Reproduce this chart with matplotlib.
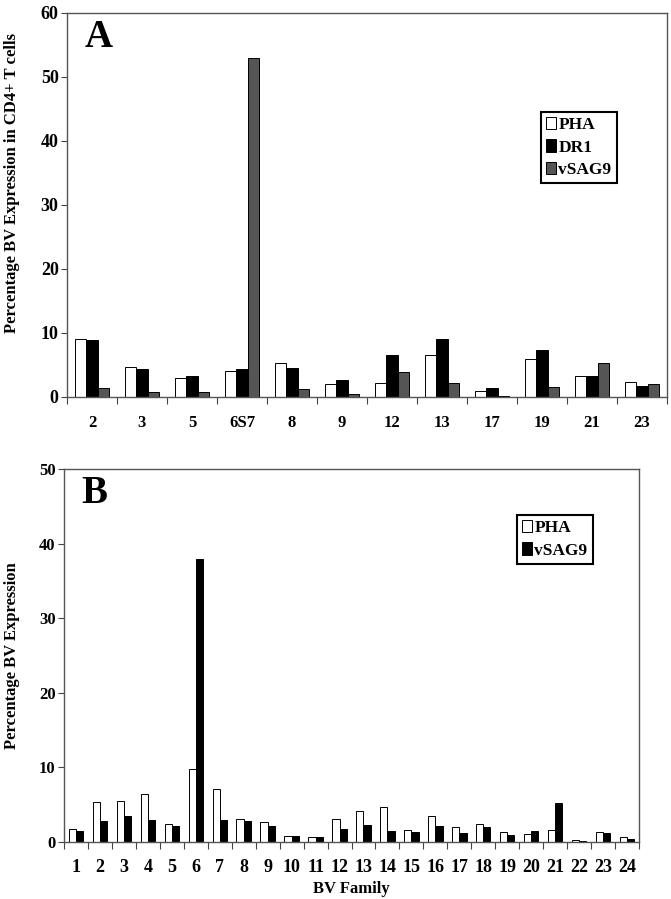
import numpy as np
import matplotlib
matplotlib.use("Agg")
import matplotlib.pyplot as plt
from matplotlib.ticker import FixedLocator, NullFormatter

plt.rcParams['font.family'] = ['Liberation Serif', 'DejaVu Serif']
plt.rcParams['font.weight'] = 'bold'
plt.rcParams['axes.labelweight'] = 'bold'

# Panel A data
fam_a = ['2', '3', '5', '6S7', '8', '9', '12', '13', '17', '19', '21', '23']
pha_a = [9.0, 4.7, 3.0, 4.0, 5.3, 2.0, 2.2, 6.5, 0.9, 6.0, 3.3, 2.3]
dr1_a = [8.9, 4.3, 3.3, 4.4, 4.5, 2.6, 6.6, 9.0, 1.4, 7.3, 3.3, 1.7]
vsag_a = [1.35, 0.8, 0.8, 53.0, 1.25, 0.45, 3.95, 2.25, 0.15, 1.55, 5.3, 2.0]

# Panel B data
fam_b = [str(i) for i in range(1, 25)]
pha_b = [1.8, 5.3, 5.5, 6.5, 2.45, 9.8, 7.1, 3.1, 2.7, 0.85, 0.7, 3.1,
         4.1, 4.65, 1.55, 3.55, 2.0, 2.4, 1.4, 1.05, 1.55, 0.27, 1.35, 0.67]
vsag_b = [1.45, 2.75, 3.5, 2.9, 2.1, 37.9, 3.0, 2.8, 2.1, 0.75, 0.7, 1.7,
          2.3, 1.5, 1.35, 2.2, 1.2, 2.0, 1.0, 1.45, 5.25, 0.13, 1.15, 0.4]

fig = plt.figure(figsize=(6.71, 8.99), dpi=100)
ax1 = fig.add_axes([67/671, 1-397/899, 600/671, 384/899])
ax2 = fig.add_axes([64/671, 1-842/899, 575/671, 373/899])


def style(ax, n, ymax, step, labels, xpad, xsize, ysize):
    ax.set_xlim(0, n)
    ax.set_ylim(0, ymax)
    ax.set_yticks(np.arange(0, ymax + 1, step))
    ax.set_xticks(np.arange(n) + 0.5)
    ax.set_xticklabels(labels)
    ax.xaxis.set_minor_locator(FixedLocator(np.arange(n + 1)))
    ax.xaxis.set_minor_formatter(NullFormatter())
    ax.tick_params(axis='x', which='major', length=0, pad=xpad, labelsize=xsize)
    ax.tick_params(axis='x', which='minor', length=5, width=0.8, direction='out', color='#444')
    ax.tick_params(axis='y', length=4, width=0.8, pad=2, labelsize=ysize, color='#444')
    for s in ax.spines.values():
        s.set_color('#555')
        s.set_linewidth(1.0)


def legend(ax, x0, y0):
    leg = ax.legend(loc='upper left', bbox_to_anchor=(x0/671, 1-y0/899), bbox_transform=fig.transFigure,
                    borderaxespad=0, fancybox=False, edgecolor='black', framealpha=1,
                    handlelength=0.55, handleheight=0.7, handletextpad=0.15, labelspacing=0.35,
                    borderpad=0.3, fontsize=12.5)
    leg.get_frame().set_linewidth(1.5)


# Panel A
x = np.arange(len(fam_a))
w = 0.233
kw = dict(edgecolor='black', linewidth=0.7)
ax1.bar(x + 0.5 - w, pha_a, w, color='white', label='PHA', **kw)
ax1.bar(x + 0.5, dr1_a, w, color='black', label='DR1', **kw)
ax1.bar(x + 0.5 + w, vsag_a, w, color='#555555', label='vSAG9', **kw)
style(ax1, len(fam_a), 60, 10, fam_a, 13, 12, 13)
ax1.set_ylabel('Percentage BV Expression in CD4+ T cells', fontsize=12)
ax1.yaxis.set_label_coords(-0.078, 0.557)
ax1.text(0.03, 0.985, 'A', transform=ax1.transAxes, fontsize=28, va='top', ha='left')
legend(ax1, 541, 112)

# Panel B
x = np.arange(len(fam_b))
w = 0.3
ax2.bar(x + 0.5 - w / 2, pha_b, w, color='white', label='PHA', **kw)
ax2.bar(x + 0.5 + w / 2, vsag_b, w, color='black', label='vSAG9', **kw)
style(ax2, len(fam_b), 50, 10, fam_b, 12, 13, 12)
ax2.set_ylabel('Percentage BV Expression', fontsize=12)
ax2.yaxis.set_label_coords(-0.0765, 0.5)
ax2.set_xlabel('BV Family', fontsize=12, labelpad=4)
ax2.text(0.03, 0.985, 'B', transform=ax2.transAxes, fontsize=28, va='top', ha='left')
legend(ax2, 517, 515)

fig.savefig('out.png', dpi=100)
